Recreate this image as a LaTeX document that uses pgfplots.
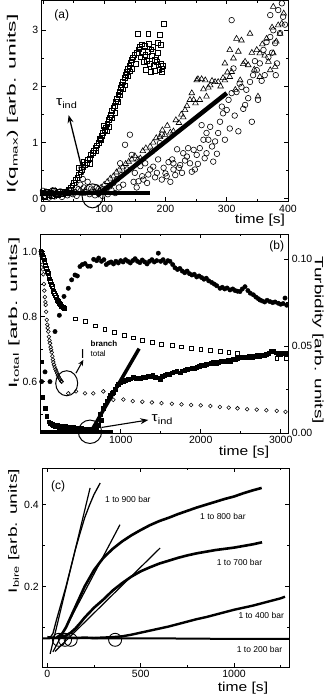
\documentclass[border=0pt]{standalone}
\usepackage{fontspec}
\setmainfont{Liberation Sans}
\usepackage{pgfplots}
\pgfplotsset{compat=1.18}
\usetikzlibrary{arrows.meta}
\pgfplotsset{
  panel/.style={scale only axis, anchor=north west, clip mode=individual,
    scaled ticks=false,
    /pgf/number format/1000 sep={},
    axis line style={line width=0.9pt},
    every tick/.append style={line width=0.6pt, black},
    major tick length=4pt, minor tick length=2.2pt,
    tick label style={font=\fontsize{10.5}{12}\selectfont},
    /pgf/number format/assume math mode=true,
    label style={font=\fontsize{12}{14}\selectfont},
    xlabel style={anchor=center},
    ylabel style={anchor=center}},
  fit/.style={black, line width=4pt, no marks},
}
\begin{document}
\begin{tikzpicture}
\path[use as bounding box] (0,0) rectangle (333pt,697pt);

% ---------------- (a)
\begin{axis}[panel, at={(41.7pt,696.5pt)}, width=246.6pt, height=201pt,
  xmin=-2, xmax=400.5, ymin=-0.05, ymax=3.53,
  xtick={0,100,200,300,400}, minor xtick={50,150,250,350},
  ytick={0,1,2,3}, minor ytick={0.5,1.5,2.5},
  xlabel={\scalebox{1.2}[1]{time [s]}},
  xlabel style={at={(axis description cs:0.885,-0.095)}, font=\fontsize{13}{15}\selectfont},
  ylabel={\scalebox{1.9}[1]{I(q\textsubscript{max}) [arb. units]}},
  ylabel style={at={(axis description cs:-0.118,0.485)}},
]
\addplot[only marks, mark=square, mark size=2.4pt, mark options={line width=0.6pt}] coordinates {
(0,0.10) (3,0.04) (6,0.13) (9,0.07) (12,0.11) (15,0.05) (18,0.14) (21,0.09) (24,0.06) (27,0.12)
(30,0.09) (33,0.08) (36,0.13) (39,0.11) (42,0.16) (45,0.19)
(48,0.24) (51,0.29) (53,0.33) (56,0.37) (58,0.43) (61,0.47) (63,0.52) (66,0.56) (68,0.60) (71,0.64)
(73,0.69) (76,0.72) (78,0.78) (81,0.82) (83,0.86) (86,0.91) (88,0.95) (91,1.00) (93,1.06) (96,1.12)
(98,1.17) (101,1.22) (103,1.27) (105,1.33) (107,1.40) (109,1.45) (111,1.50) (113,1.56) (115,1.62)
(117,1.66) (119,1.72) (121,1.78) (123,1.85) (125,1.90) (127,1.97) (129,2.03) (131,2.08) (133,2.15)
(135,2.20) (137,2.26) (139,2.31) (141,2.36) (143,2.42) (145,2.47) (147,2.52) (149,2.56)
(86,0.85) (95,1.05) (100,1.30) (104,1.20) (108,1.28) (112,1.44) (118,1.53) (122,1.72) (126,1.84)
(130,1.95) (134,2.02) (138,2.18) (142,2.27) (146,2.32) (76,0.62) (66,0.66) (58,0.55)
(151,2.40) (153,2.60) (155,2.94) (156,2.66) (158,2.70) (159,2.52) (161,2.75) (163,2.62) (164,2.44)
(166,2.72) (167,2.56) (168,2.30) (170,2.46) (171,2.62) (172,2.94) (173,2.76) (175,2.40) (176,2.26)
(177,2.66) (178,2.55) (180,2.70) (181,2.36) (182,2.48) (183,2.28) (185,2.52) (186,2.44) (187,2.78)
(188,2.60) (190,2.30) (191,2.92) (192,2.74) (193,2.40) (195,2.32) (196,2.36) (197,3.12) (194,2.26)
};
\addplot[only marks, mark=o, mark size=2.8pt, mark options={line width=0.6pt}] coordinates {
(0,0.14) (4,0.05) (7,0.11) (10,0.02) (13,0.09) (16,0.15) (19,0.04) (22,0.10) (25,0.07) (28,0.13)
(31,0.03) (34,0.09) (37,0.12) (40,0.06) (43,0.10) (46,0.14) (49,0.08) (52,0.12) (55,0.05) (58,0.17)
(61,0.25) (63,0.55) (65,0.35) (67,0.20) (70,0.12) (73,0.30) (76,0.08) (79,0.18) (82,0.12) (85,0.06)
(88,0.20) (91,0.10) (94,0.15) (97,0.05) (100,0.12) (103,0.18) (106,0.08) (109,0.22) (112,0.15)
(115,0.28) (118,0.10) (121,0.35) (124,0.20)
(126,0.63) (128,0.42) (131,0.25) (134,0.96) (137,0.52) (142,1.14) (145,0.78) (148,0.30) (150,0.46)
(153,0.20) (156,0.31) (159,0.58) (162,0.40) (164,0.34) (167,0.63) (170,0.28) (172,0.43) (175,0.52)
(178,0.84) (180,0.57) (183,0.38) (186,0.46) (188,0.70) (191,0.99) (194,1.14) (194,0.34) (197,0.55)
(200,0.45) (202,0.40) (205,0.65) (208,0.30) (211,0.70) (213,0.52) (213,0.63) (216,0.42) (219,0.88)
(222,0.55) (224,0.60) (227,0.46) (229,0.81) (232,0.68) (235,0.75) (237,0.90) (240,0.63) (243,0.48)
(246,0.87) (248,0.52) (251,0.78) (253,0.62) (256,0.90) (259,1.31) (262,1.05) (264,0.72) (267,1.17)
(267,0.81) (270,1.05) (273,1.28) (276,0.93) (278,0.66) (281,1.02) (284,0.80) (286,1.17) (289,1.37)
(292,1.64) (294,1.52) (297,1.05) (300,1.58) (303,1.76) (305,1.25) (308,1.88) (308,3.18) (311,2.32)
(313,1.48) (316,1.90) (319,1.20) (321,2.05) (324,1.99) (327,1.60) (330,1.67) (332,1.94) (335,1.79)
(338,2.08) (341,1.37) (343,2.20) (346,2.45) (349,2.29) (351,1.76) (354,2.41) (357,2.10) (360,2.65)
(362,2.20) (365,2.79) (368,2.52) (371,2.88) (371,3.27) (374,2.60) (376,3.00) (379,2.77) (382,2.41)
(384,3.36) (387,2.95) (390,3.48) (392,3.24) (395,3.10) (380,2.20)
};
\addplot[only marks, mark=triangle, mark size=3.3pt, mark options={line width=0.6pt}] coordinates {
(0,0.08) (5,0.12) (10,0.06) (15,0.10) (20,0.14) (25,0.07) (30,0.11) (35,0.09) (40,0.13) (45,0.08)
(50,0.12) (55,0.10) (60,0.14) (65,0.09) (70,0.12) (75,0.10) (80,0.15) (85,0.12) (90,0.18)
(95,0.20) (100,0.25) (105,0.30) (110,0.36) (115,0.40) (120,0.47) (125,0.52) (130,0.56) (135,0.62)
(140,0.66) (145,0.70) (150,0.76) (155,0.70) (159,0.72) (163,0.85) (168,0.90) (175,0.93) (180,1.00)
(185,1.08) (191,1.10) (195,1.22) (199,1.14) (203,1.30) (208,1.18) (213,1.20) (217,1.40) (222,1.35)
(226,1.50) (229,1.45) (232,1.58) (235,1.65) (240,1.76) (243,1.88) (246,1.76) (249,1.70) (251,2.11)
(253,2.13) (256,1.76) (259,2.13) (262,1.95) (265,2.11) (267,1.82) (270,1.98) (273,2.02) (276,2.10)
(281,2.08) (286,2.08) (290,2.00) (294,2.15) (297,2.11) (297,2.41) (301,2.25) (305,2.17) (305,2.65)
(308,2.26) (311,2.50) (314,1.94) (316,2.85) (319,2.62) (322,2.11) (324,2.82) (327,2.40) (330,2.44)
(335,2.38) (338,2.94) (341,2.60) (345,2.30) (349,2.65) (351,1.82) (354,2.59) (354,2.17) (358,2.75)
(362,2.55) (365,2.85) (368,2.44) (371,2.29) (374,3.05) (376,3.42) (376,2.59) (379,2.35) (381,2.80)
(384,3.09) (387,2.94) (390,3.12) (393,3.30)
};
\addplot[fit] coordinates {(-2,0.10) (175,0.10)};
\addplot[fit, line width=4.5pt] coordinates {(88,0.05) (300,1.88)};
\draw[line width=1pt] (axis cs:81,0.05) ellipse [x radius=10.5pt, y radius=12pt];
\draw[line width=1.3pt, -{Stealth[length=8pt,width=6pt]}] (axis cs:66,0.43) -- (axis cs:42,1.49);
\node[font=\fontsize{13}{15}\selectfont] at (axis cs:39,1.69) {\scalebox{1.2}[1]{τ\textsubscript{ind}}};
\node[font=\fontsize{12}{14}\selectfont] at (axis description cs:0.081,0.928) {(a)};
\end{axis}

% ---------------- (b) left axis
\begin{axis}[panel, at={(40.7pt,463pt)}, width=247.6pt, height=199pt,
  xmin=0, xmax=3095, ymin=0.442, ymax=1.054,
  xtick={1000,2000,3000}, minor xtick={500,1500,2500},
  ytick={0.6,0.8,1.0}, yticklabels={0.6,0.8,1.0}, minor ytick={0.5,0.7,0.9},
  ytick pos=left,
  xlabel={\scalebox{1.2}[1]{time [s]}},
  xlabel style={at={(axis description cs:0.821,-0.094)}, font=\fontsize{13}{15}\selectfont},
  ylabel={\scalebox{1.9}[1]{I\textsubscript{total} [arb. units]}},
  ylabel style={at={(axis description cs:-0.108,0.603)}},
]
\addplot[only marks, mark=square, mark size=1.9pt, mark options={line width=0.55pt}] coordinates {
(0,1.0) (10,0.997) (20,0.99) (30,0.982) (40,0.975) (50,0.966) (60,0.957) (70,0.949) (80,0.94)
(90,0.932) (100,0.924) (110,0.916) (120,0.908) (130,0.9) (140,0.893) (150,0.886) (160,0.879)
(170,0.872) (180,0.866) (190,0.86) (200,0.855) (210,0.85) (220,0.846) (230,0.842) (240,0.838)
(250,0.835) (260,0.832) (270,0.83) (280,0.828) (290,0.826) (300,0.825)
(430,0.793) (560,0.786) (680,0.772) (800,0.762) (920,0.752) (1040,0.743) (1160,0.735) (1270,0.727)
(1390,0.722) (1510,0.716) (1640,0.712) (1760,0.707) (1880,0.703) (2000,0.700) (2120,0.697)
(2240,0.694) (2350,0.691) (2460,0.688) (2950,0.673) (3070,0.672)
};
\addplot[only marks, mark=o, mark size=1.9pt, mark options={line width=0.55pt}] coordinates {
(0,1.0) (6,0.99) (12,0.985) (20,0.96) (27,0.945) (33,0.93) (40,0.9) (45,0.88) (52,0.86) (58,0.845)
(62,0.836) (68,0.815) (75,0.79) (82,0.775) (88,0.765) (95,0.754) (103,0.738) (110,0.727) (116,0.718)
(124,0.706) (130,0.698) (137,0.69) (145,0.678) (152,0.668) (158,0.66) (166,0.652) (175,0.645)
(185,0.638) (195,0.632) (205,0.626) (215,0.62) (225,0.615) (235,0.61) (245,0.606) (255,0.602) (262,0.6)
(345,0.564) (441,0.57) (554,0.564) (657,0.564) (783,0.57) (908,0.544) (1033,0.545) (1150,0.54)
(1270,0.538) (1390,0.536) (1510,0.534) (1640,0.532) (1760,0.53) (1880,0.528) (2000,0.527)
(2120,0.525) (2240,0.522) (2350,0.52) (2460,0.518) (2580,0.515) (2700,0.514) (2820,0.512)
(2950,0.51) (3060,0.507)
};
\addplot[only marks, mark=*, mark size=2.2pt] coordinates {
(12,0.60) (54,0.63) (116,0.60) (179,0.754) (233,0.804) (291,0.862) (345,0.887) (387,0.913) (429,0.928)
(458,0.925) (491,0.954) (520,0.96) (554,0.963) (590,0.955) (620,0.955) (662,0.976) (700,0.972)
(725,0.98) (760,0.97) (790,0.975) (820,0.96) (850,0.965) (880,0.968) (910,0.962) (940,0.97)
(970,0.965) (1000,0.972) (1030,0.968) (1060,0.975) (1090,0.97) (1120,0.965) (1150,0.972)
(1180,0.978) (1210,0.97) (1240,0.966) (1270,0.974) (1300,0.968) (1330,0.962) (1360,0.97)
(1390,0.975) (1420,0.968) (1450,0.972) (1470,0.995) (1500,0.97) (1530,0.975) (1560,0.965)
(1590,0.972) (1616,0.97) (1650,0.96) (1679,0.95) (1710,0.945) (1740,0.948) (1770,0.94) (1800,0.935)
(1830,0.94) (1860,0.932) (1890,0.928) (1920,0.93) (1950,0.922) (1980,0.925) (2012,0.92) (2040,0.915)
(2070,0.918) (2100,0.91) (2137,0.905) (2170,0.9) (2200,0.895) (2241,0.887) (2270,0.89) (2300,0.885)
(2330,0.888) (2366,0.882) (2400,0.885) (2430,0.88) (2460,0.878) (2491,0.877) (2520,0.885)
(2554,0.892) (2590,0.88) (2620,0.872) (2658,0.867) (2690,0.86) (2720,0.855) (2741,0.851)
(2770,0.848) (2800,0.845) (2830,0.85) (2866,0.846) (2900,0.843) (2930,0.845) (2970,0.841)
(3000,0.838) (3030,0.84) (3054,0.857) (3075,0.835)
};
\draw[line width=1pt] (axis cs:325,0.595) ellipse [x radius=11pt, y radius=12.5pt];
\draw[line width=1.1pt, -{Stealth[length=6pt,width=5pt]}] (axis cs:441,0.626) -- (axis cs:533,0.667);
\node[font=\fontsize{13}{15}\selectfont] at (axis cs:525,0.685) {I};
\node[anchor=west, font=\bfseries\fontsize{8}{9}\selectfont] at (axis cs:580,0.718) {branch};
\node[anchor=west, font=\fontsize{8}{9}\selectfont] at (axis cs:580,0.687) {total};
\node[font=\fontsize{12}{14}\selectfont] at (axis description cs:0.953,0.936) {(b)};
\end{axis}

% ---------------- (b) right axis
\begin{axis}[panel, at={(40.7pt,463pt)}, width=247.6pt, height=199pt,
  xmin=0, xmax=3095, ymin=0, ymax=0.1144,
  axis x line=none, axis y line*=right, ytick pos=right,
  ytick={0,0.05,0.1}, yticklabels={0.00,0.05,0.10}, minor ytick={0.025,0.075},
  ylabel={\scalebox{1.58}[1]{Turbidity [arb. units]}},
  ylabel style={at={(axis description cs:1.12,0.467)}, rotate=180},
]
\addplot[only marks, mark=square*, mark size=1.9pt] coordinates {
(12,0.041) (25,0.0207) (54,0.0141) (75,0.0095) (100,0.0065) (116,0.0057) (140,0.005) (160,0.0045)
(185,0.004) (210,0.0048) (235,0.0035) (260,0.0042) (285,0.003) (310,0.0038) (335,0.0028) (360,0.0035)
(385,0.0025) (410,0.0032) (435,0.0022) (460,0.003) (485,0.002) (510,0.0028) (540,0.002) (570,0.0025)
(600,0.0018) (630,0.0024) (660,0.002) (690,0.0028) (715,0.0045) (741,0.0106) (760,0.0075) (780,0.0141)
(800,0.016) (825,0.0186) (850,0.02) (870,0.0216) (890,0.0228) (908,0.0235) (930,0.025) (950,0.0272)
(970,0.028) (1000,0.0291) (1030,0.0295) (1060,0.0304) (1090,0.0309) (1120,0.0312) (1158,0.0319)
(1190,0.0315) (1220,0.0312) (1250,0.0316) (1280,0.0319) (1310,0.0322) (1340,0.0328) (1370,0.0325)
(1400,0.033) (1430,0.0322) (1460,0.0318) (1491,0.0309) (1520,0.0325) (1550,0.0333) (1580,0.0337)
(1610,0.034) (1640,0.0347) (1670,0.0352) (1700,0.0356) (1741,0.0347) (1770,0.0358) (1800,0.0362)
(1830,0.0366) (1860,0.037) (1890,0.0375) (1920,0.0372) (1950,0.038) (1980,0.0384) (2010,0.0388)
(2040,0.0391) (2071,0.0394) (2100,0.0398) (2130,0.0403) (2160,0.0406) (2190,0.0403) (2220,0.0408)
(2250,0.0412) (2280,0.041) (2310,0.0415) (2340,0.0418) (2370,0.0415) (2404,0.0422) (2430,0.0426)
(2460,0.0431) (2491,0.0435) (2520,0.0433) (2550,0.0436) (2580,0.0438) (2610,0.044) (2640,0.0437)
(2670,0.0443) (2700,0.0445) (2730,0.0442) (2760,0.0447) (2790,0.0449) (2820,0.0455) (2850,0.0459)
(2880,0.0468) (2908,0.0468) (2940,0.0462) (2970,0.0459) (3000,0.0455) (3030,0.0457) (3060,0.0459)
(3075,0.045)
};
\addplot[fit, line width=3pt] coordinates {(0,0.0008) (900,0.0008)};
\addplot[fit, line width=3.5pt] coordinates {(580,-0.003) (1230,0.0485)};
\draw[line width=1pt] (axis cs:616,0.0007) ellipse [radius=11.7pt];
\draw[line width=1.1pt, -{Stealth[length=8pt,width=6pt]}] (axis cs:762,0.0032) -- (axis cs:1345,0.0075);
\node[anchor=west, font=\fontsize{13}{15}\selectfont, inner sep=0pt] at (axis cs:1385,0.0077) {\scalebox{1.2}[1]{τ\textsubscript{ind}}};
\end{axis}

% ---------------- (c)
\begin{axis}[panel, at={(42.3pt,228.7pt)}, width=247pt, height=198.7pt,
  xmin=-27, xmax=1296, ymin=0.003, ymax=0.489,
  xtick={0,500,1000}, minor xtick={250,750,1250},
  ytick={0.2,0.4}, minor ytick={0.1,0.3},
  xlabel={\scalebox{1.2}[1]{time [s]}},
  xlabel style={at={(axis description cs:0.8125,-0.106)}, font=\fontsize{13}{15}\selectfont},
  ylabel={\scalebox{1.6}[1]{I\textsubscript{bire} [arb. units]}},
  ylabel style={at={(axis description cs:-0.115,0.684)}},
  every axis plot/.append style={no marks},
]
\addplot[black, line width=2pt] coordinates {(-27,0.073) (100,0.074) (300,0.073) (600,0.073) (900,0.072) (1296,0.072)};
\addplot[black, line width=2.4pt] coordinates {
(0,0.076) (50,0.074) (100,0.075) (150,0.074) (200,0.075) (250,0.074) (300,0.075) (350,0.076)
(400,0.078) (450,0.082) (500,0.087) (550,0.092) (600,0.097) (650,0.102) (700,0.108) (750,0.114)
(800,0.12) (850,0.125) (900,0.131) (950,0.137) (1000,0.143) (1050,0.148) (1100,0.153) (1150,0.159)
(1200,0.165) (1250,0.171) (1273,0.175)};
\addplot[black, line width=2.6pt] coordinates {
(60,0.075) (100,0.08) (125,0.087) (150,0.097) (175,0.11) (200,0.124) (250,0.148) (300,0.168)
(350,0.19) (400,0.208) (450,0.224) (500,0.237) (550,0.247) (600,0.256) (650,0.263) (700,0.27)
(750,0.276) (800,0.281) (850,0.285) (900,0.289) (950,0.292) (1000,0.295) (1050,0.299) (1100,0.303)
(1150,0.308)};
\addplot[black, line width=2.6pt] coordinates {
(50,0.075) (80,0.085) (100,0.1) (125,0.125) (150,0.15) (175,0.175) (200,0.2) (250,0.24) (300,0.27)
(350,0.292) (400,0.31) (450,0.325) (500,0.338) (550,0.35) (600,0.36) (650,0.368) (700,0.377)
(750,0.385) (800,0.393) (850,0.4) (900,0.407) (950,0.414) (1000,0.42) (1050,0.428) (1100,0.435)
(1148,0.441)};
\addplot[black, line width=1.3pt] coordinates {
(15,0.075) (30,0.085) (50,0.12) (75,0.16) (100,0.2) (125,0.245) (150,0.29) (175,0.33) (200,0.368)
(225,0.398) (250,0.425) (283,0.453)};
\addplot[black, line width=1.2pt] coordinates {(15,0.035) (229,0.441)};
\addplot[black, line width=1.2pt] coordinates {(30,0.04) (389,0.351)};
\addplot[black, line width=1.2pt] coordinates {(41,0.041) (604,0.294)};
\foreach \t in {62,95,125,363} {
  \edef\tmp{\noexpand\draw[line width=0.9pt] (axis cs:\t,0.0695) circle [radius=6.5pt];}\tmp
}
\node[anchor=west, font=\fontsize{8.5}{10}\selectfont] at (axis cs:291,0.412) {1 to 900 bar};
\node[anchor=west, font=\fontsize{8.5}{10}\selectfont] at (axis cs:800,0.37) {1 to 800 bar};
\node[anchor=west, font=\fontsize{8.5}{10}\selectfont] at (axis cs:889,0.259) {1 to 700 bar};
\node[anchor=west, font=\fontsize{8.5}{10}\selectfont] at (axis cs:1005,0.129) {1 to 400 bar};
\node[anchor=west, font=\fontsize{8.5}{10}\selectfont] at (axis cs:996,0.047) {1 to 200 bar};
\node[font=\fontsize{12}{14}\selectfont] at (axis description cs:0.064,0.907) {(c)};
\end{axis}
\end{tikzpicture}
\end{document}
